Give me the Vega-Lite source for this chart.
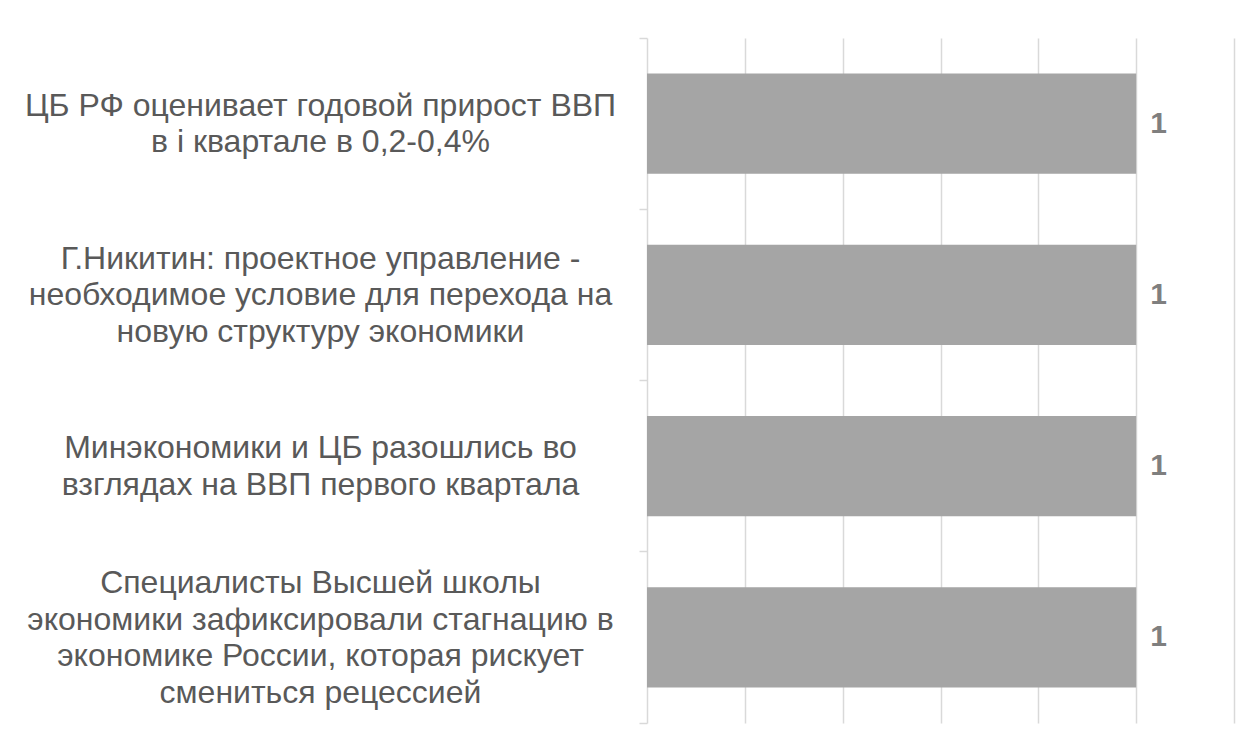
{
  "$schema": "https://vega.github.io/schema/vega-lite/v6.json",
  "autosize": {"type": "none"},
  "width": 587,
  "height": 685,
  "padding": {"left": 647, "top": 38, "right": 16, "bottom": 24},
  "background": "white",
  "config": {"view": {"stroke": null}, "font": "Liberation Sans"},
  "data": {
    "values": [
      {"title": "ЦБ РФ оценивает годовой прирост ВВП|в і квартале в 0,2-0,4%", "value": 1},
      {"title": "Г.Никитин: проектное управление -|необходимое условие для перехода на|новую структуру экономики", "value": 1},
      {"title": "Минэкономики и ЦБ разошлись во|взглядах на ВВП первого квартала", "value": 1},
      {"title": "Специалисты Высшей школы|экономики зафиксировали стагнацию в|экономике России, которая рискует|смениться рецессией", "value": 1}
    ]
  },
  "encoding": {
    "y": {
      "field": "title",
      "type": "nominal",
      "sort": null,
      "scale": {"paddingInner": 0, "paddingOuter": 0},
      "axis": {
        "title": null,
        "labelExpr": "split(datum.label, '|')",
        "labelFont": "Liberation Sans",
        "labelFontSize": 32,
        "labelColor": "#595959",
        "labelAlign": "center",
        "labelBaseline": "middle",
        "labelLineHeight": 36.5,
        "labelPadding": 319,
        "labelLimit": 700,
        "labelOffset": {
          "condition": [
            {"test": "length(split(datum.label, '|')) == 4", "value": -54},
            {"test": "length(split(datum.label, '|')) == 3", "value": -36}
          ],
          "value": -18
        },
        "domainColor": "#d9d9d9",
        "domainWidth": 1.5,
        "tickColor": "#d9d9d9",
        "tickWidth": 1.5,
        "tickSize": 8,
        "bandPosition": 1,
        "tickExtra": true,
        "grid": false
      }
    },
    "x": {
      "field": "value",
      "type": "quantitative",
      "scale": {"domain": [0, 1.2], "nice": false},
      "axis": {
        "title": null,
        "labels": false,
        "ticks": false,
        "domain": false,
        "grid": true,
        "gridColor": "#d9d9d9",
        "gridWidth": 1.5,
        "values": [0.2, 0.4, 0.6, 0.8, 1.0, 1.2]
      }
    }
  },
  "layer": [
    {"mark": {"type": "bar", "color": "#a5a5a5", "height": {"band": 0.585}}},
    {
      "mark": {"type": "text", "align": "left", "baseline": "middle", "dx": 14, "fontSize": 30, "fontWeight": "bold", "color": "#7f7f7f", "font": "Liberation Sans"},
      "encoding": {"text": {"field": "value", "type": "quantitative"}}
    }
  ]
}
